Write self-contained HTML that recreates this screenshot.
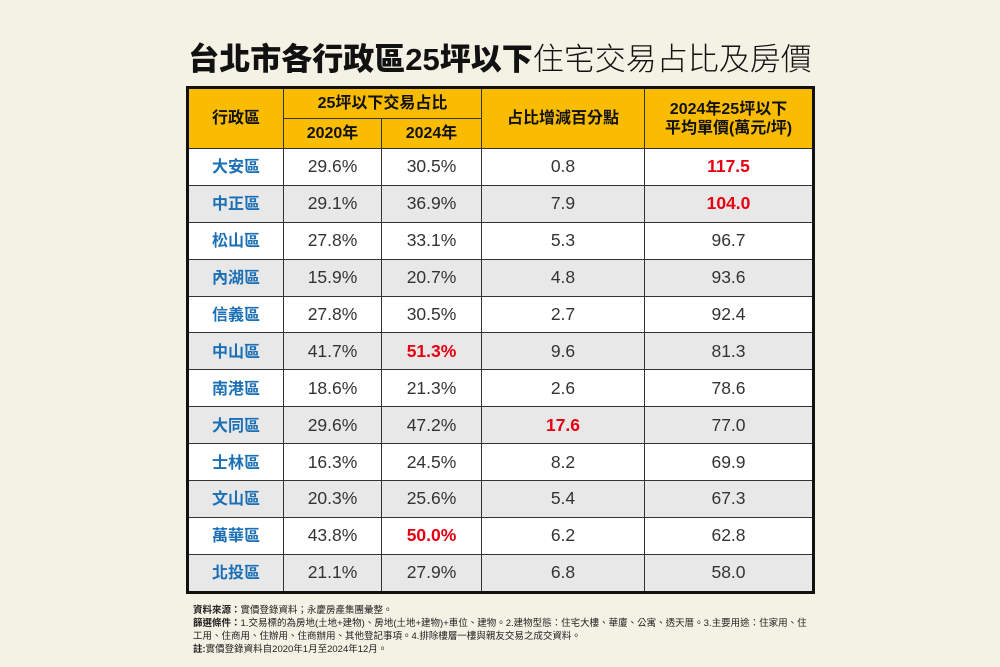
<!DOCTYPE html>
<html><head><meta charset="utf-8"><style>
body{margin:0;width:1000px;height:667px;background:#f3f2e4;font-family:"Liberation Sans","Noto Sans CJK TC",sans-serif;position:relative;overflow:hidden}
.title{position:absolute;left:0;width:1000px;top:38px;text-align:center;font-size:31px;line-height:44px;color:#111;white-space:nowrap}
.title b{font-weight:900}
.title span{font-weight:300}
table{position:absolute;left:186px;top:86px;border-collapse:collapse;border:3px solid #111;table-layout:fixed}
td{border:1.5px solid #333;text-align:center;padding:0;font-size:17.5px;color:#333}
th{border:1.5px solid #333;background:#f9bc00;font-weight:bold;font-size:16px;color:#111;padding:0;line-height:19px}
tr.r td{height:35.9px}
tr.w td{background:#fff}
tr.g td{background:#e8e8e8}
td.d{color:#1a6fb5;font-weight:bold;font-size:16px}
td.d span{position:relative;top:-1.5px}
td.red{color:#e60012;font-weight:bold}
.note{position:absolute;left:193px;top:604px;font-size:9.5px;line-height:13px;color:#222;width:620px}
</style></head><body>
<div class="title"><b>台北市各行政區25坪以下</b><span>住宅交易占比及房價</span></div>
<table>
<colgroup><col style="width:96px"><col style="width:98px"><col style="width:100px"><col style="width:163px"><col style="width:169px"></colgroup>
<tr><th rowspan="2" style="height:59px">行政區</th><th colspan="2" style="height:28px">25坪以下交易占比</th><th rowspan="2">占比增減百分點</th><th rowspan="2">2024年25坪以下<br>平均單價(萬元/坪)</th></tr>
<tr><th style="height:29px">2020年</th><th>2024年</th></tr>
<tr class="r w"><td class="d"><span>大安區</span></td><td>29.6%</td><td>30.5%</td><td>0.8</td><td class="red">117.5</td></tr>
<tr class="r g"><td class="d"><span>中正區</span></td><td>29.1%</td><td>36.9%</td><td>7.9</td><td class="red">104.0</td></tr>
<tr class="r w"><td class="d"><span>松山區</span></td><td>27.8%</td><td>33.1%</td><td>5.3</td><td>96.7</td></tr>
<tr class="r g"><td class="d"><span>內湖區</span></td><td>15.9%</td><td>20.7%</td><td>4.8</td><td>93.6</td></tr>
<tr class="r w"><td class="d"><span>信義區</span></td><td>27.8%</td><td>30.5%</td><td>2.7</td><td>92.4</td></tr>
<tr class="r g"><td class="d"><span>中山區</span></td><td>41.7%</td><td class="red">51.3%</td><td>9.6</td><td>81.3</td></tr>
<tr class="r w"><td class="d"><span>南港區</span></td><td>18.6%</td><td>21.3%</td><td>2.6</td><td>78.6</td></tr>
<tr class="r g"><td class="d"><span>大同區</span></td><td>29.6%</td><td>47.2%</td><td class="red">17.6</td><td>77.0</td></tr>
<tr class="r w"><td class="d"><span>士林區</span></td><td>16.3%</td><td>24.5%</td><td>8.2</td><td>69.9</td></tr>
<tr class="r g"><td class="d"><span>文山區</span></td><td>20.3%</td><td>25.6%</td><td>5.4</td><td>67.3</td></tr>
<tr class="r w"><td class="d"><span>萬華區</span></td><td>43.8%</td><td class="red">50.0%</td><td>6.2</td><td>62.8</td></tr>
<tr class="r g"><td class="d"><span>北投區</span></td><td>21.1%</td><td>27.9%</td><td>6.8</td><td>58.0</td></tr>
</table>
<div class="note"><b>資料來源：</b>實價登錄資料；永慶房產集團彙整。<br><b>篩選條件：</b>1.交易標的為房地(土地+建物)、房地(土地+建物)+車位、建物。2.建物型態：住宅大樓、華廈、公寓、透天厝。3.主要用途：住家用、住工用、住商用、住辦用、住商辦用、其他登記事項。4.排除樓層一樓與親友交易之成交資料。<br><b>註:</b>實價登錄資料自2020年1月至2024年12月。</div>
</body></html>
